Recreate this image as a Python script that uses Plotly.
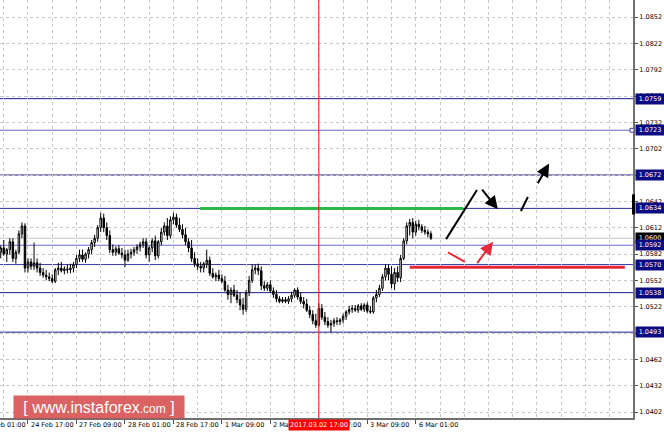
import plotly.graph_objects as go

# ---------------- data (EURUSD H1) ----------------
OPEN = [1.0584, 1.0589, 1.0582, 1.0587, 1.0596, 1.0577, 1.0584, 1.0605, 1.0614,
        1.0566, 1.0573, 1.0568, 1.0572, 1.0566, 1.0561, 1.0558, 1.0556, 1.0554, 1.0551,
        1.0564, 1.0566, 1.0563, 1.0565, 1.0564, 1.0566, 1.0570, 1.0577, 1.0581, 1.0576,
        1.0582, 1.0587, 1.0595, 1.0600, 1.0612, 1.0623, 1.0612, 1.0603, 1.0587, 1.0584,
        1.0588, 1.0583, 1.0581, 1.0575, 1.0582, 1.0584, 1.0587, 1.0590, 1.0593, 1.0596,
        1.0581, 1.0589, 1.0597, 1.0580, 1.0596, 1.0607, 1.0614, 1.0603, 1.0621, 1.0624,
        1.0615, 1.0610, 1.0604, 1.0596, 1.0589, 1.0577, 1.0571, 1.0568, 1.0566, 1.0571,
        1.0575, 1.0560, 1.0556, 1.0558, 1.0554, 1.0551, 1.0541, 1.0536, 1.0541, 1.0535,
        1.0530, 1.0524, 1.0519, 1.0538, 1.0552, 1.0564, 1.0566, 1.0563, 1.0546, 1.0543,
        1.0547, 1.0540, 1.0536, 1.0531, 1.0528, 1.0530, 1.0528, 1.0531, 1.0535, 1.0541,
        1.0533, 1.0528, 1.0525, 1.0518, 1.0513, 1.0506, 1.0501, 1.0520, 1.0510, 1.0505,
        1.0501, 1.0503, 1.0506, 1.0505, 1.0507, 1.0511, 1.0516, 1.0519, 1.0520, 1.0518,
        1.0523, 1.0519, 1.0524, 1.0517, 1.0516, 1.0532, 1.0536, 1.0543, 1.0556, 1.0566,
        1.0559, 1.0548, 1.0561, 1.0555, 1.0577, 1.0597, 1.0614, 1.0618, 1.0607, 1.0616,
        1.0613, 1.0609, 1.0607, 1.0605]
HIGH = [1.0592, 1.0598, 1.0589, 1.0600, 1.0600, 1.0587, 1.0609, 1.0618, 1.0617,
        1.0577, 1.0577, 1.0595, 1.0577, 1.0572, 1.0566, 1.0564, 1.0561, 1.0559, 1.0566,
        1.0572, 1.0573, 1.0568, 1.0570, 1.0571, 1.0573, 1.0581, 1.0587, 1.0587, 1.0584,
        1.0590, 1.0598, 1.0604, 1.0615, 1.0629, 1.0628, 1.0618, 1.0609, 1.0593, 1.0591,
        1.0592, 1.0589, 1.0587, 1.0587, 1.0588, 1.0590, 1.0593, 1.0596, 1.0600, 1.0600,
        1.0591, 1.0600, 1.0603, 1.0598, 1.0612, 1.0618, 1.0623, 1.0625, 1.0629, 1.0628,
        1.0623, 1.0616, 1.0612, 1.0600, 1.0598, 1.0584, 1.0577, 1.0573, 1.0573, 1.0587,
        1.0579, 1.0566, 1.0561, 1.0564, 1.0559, 1.0557, 1.0547, 1.0544, 1.0547, 1.0541,
        1.0538, 1.0532, 1.0541, 1.0557, 1.0570, 1.0570, 1.0571, 1.0568, 1.0551, 1.0550,
        1.0552, 1.0544, 1.0541, 1.0534, 1.0533, 1.0533, 1.0534, 1.0539, 1.0543, 1.0544,
        1.0538, 1.0533, 1.0531, 1.0523, 1.0518, 1.0514, 1.0526, 1.0525, 1.0516, 1.0510,
        1.0507, 1.0509, 1.0510, 1.0509, 1.0514, 1.0518, 1.0523, 1.0524, 1.0524, 1.0525,
        1.0526, 1.0526, 1.0527, 1.0523, 1.0534, 1.0541, 1.0547, 1.0559, 1.0570, 1.0570,
        1.0568, 1.0566, 1.0568, 1.0581, 1.0600, 1.0618, 1.0622, 1.0623, 1.0620, 1.0621,
        1.0616, 1.0614, 1.0610, 1.0608]
LOW = [1.0577, 1.0580, 1.0573, 1.0581, 1.0573, 1.0571, 1.0582, 1.0600, 1.0561,
       1.0561, 1.0564, 1.0564, 1.0561, 1.0557, 1.0555, 1.0552, 1.0551, 1.0549, 1.0549,
       1.0558, 1.0561, 1.0559, 1.0560, 1.0560, 1.0561, 1.0566, 1.0573, 1.0573, 1.0572,
       1.0577, 1.0582, 1.0590, 1.0596, 1.0607, 1.0607, 1.0598, 1.0583, 1.0580, 1.0580,
       1.0581, 1.0577, 1.0567, 1.0573, 1.0577, 1.0580, 1.0582, 1.0585, 1.0589, 1.0577,
       1.0573, 1.0584, 1.0575, 1.0577, 1.0592, 1.0603, 1.0598, 1.0600, 1.0616, 1.0612,
       1.0607, 1.0600, 1.0592, 1.0584, 1.0573, 1.0567, 1.0564, 1.0561, 1.0561, 1.0566,
       1.0557, 1.0554, 1.0551, 1.0551, 1.0549, 1.0539, 1.0530, 1.0526, 1.0533, 1.0526,
       1.0518, 1.0513, 1.0516, 1.0534, 1.0549, 1.0559, 1.0558, 1.0541, 1.0540, 1.0540,
       1.0538, 1.0532, 1.0527, 1.0526, 1.0526, 1.0526, 1.0525, 1.0527, 1.0532, 1.0530,
       1.0525, 1.0520, 1.0516, 1.0509, 1.0502, 1.0498, 1.0499, 1.0507, 1.0501, 1.0498,
       1.0493, 1.0499, 1.0501, 1.0501, 1.0503, 1.0507, 1.0513, 1.0515, 1.0516, 1.0515,
       1.0517, 1.0516, 1.0515, 1.0514, 1.0514, 1.0527, 1.0533, 1.0540, 1.0552, 1.0552,
       1.0543, 1.0541, 1.0550, 1.0550, 1.0575, 1.0593, 1.0603, 1.0600, 1.0603, 1.0609,
       1.0606, 1.0604, 1.0601, 1.0598]
CLOSE = [1.0589, 1.0582, 1.0587, 1.0596, 1.0577, 1.0584, 1.0605, 1.0614, 1.0566,
         1.0573, 1.0568, 1.0572, 1.0566, 1.0561, 1.0558, 1.0556, 1.0554, 1.0551, 1.0564,
         1.0566, 1.0563, 1.0565, 1.0564, 1.0566, 1.0570, 1.0577, 1.0581, 1.0576, 1.0582,
         1.0587, 1.0595, 1.0600, 1.0612, 1.0623, 1.0612, 1.0603, 1.0587, 1.0584, 1.0588,
         1.0583, 1.0581, 1.0575, 1.0582, 1.0584, 1.0587, 1.0590, 1.0593, 1.0596, 1.0581,
         1.0589, 1.0597, 1.0580, 1.0596, 1.0607, 1.0614, 1.0603, 1.0621, 1.0624, 1.0615,
         1.0610, 1.0604, 1.0596, 1.0589, 1.0577, 1.0571, 1.0568, 1.0566, 1.0571, 1.0575,
         1.0560, 1.0556, 1.0558, 1.0554, 1.0551, 1.0541, 1.0536, 1.0541, 1.0535, 1.0530,
         1.0524, 1.0519, 1.0538, 1.0552, 1.0564, 1.0566, 1.0563, 1.0546, 1.0543, 1.0547,
         1.0540, 1.0536, 1.0531, 1.0528, 1.0530, 1.0528, 1.0531, 1.0535, 1.0541, 1.0533,
         1.0528, 1.0525, 1.0518, 1.0513, 1.0506, 1.0501, 1.0520, 1.0510, 1.0505, 1.0501,
         1.0503, 1.0506, 1.0505, 1.0507, 1.0511, 1.0516, 1.0519, 1.0520, 1.0518, 1.0523,
         1.0519, 1.0524, 1.0517, 1.0516, 1.0532, 1.0536, 1.0543, 1.0556, 1.0566, 1.0559,
         1.0548, 1.0561, 1.0555, 1.0577, 1.0597, 1.0614, 1.0618, 1.0607, 1.0616, 1.0613,
         1.0609, 1.0607, 1.0605, 1.0600]

TICK_BARS = [-7, 9, 25, 41, 57, 73, 89, 105, 121, 137]
TICK_TEXT = ["24 Feb 01:00", "24 Feb 17:00", "27 Feb 09:00", "28 Feb 01:00",
             "28 Feb 17:00", "1 Mar 09:00", "2 Mar 01:00", "2 Mar 17:00",
             "3 Mar 09:00", "6 Mar 01:00"]
CURSOR_BAR = 105
CURSOR_TEXT = "2017.03.02 17:00"

Y_TICKS = [1.0402, 1.0432, 1.0462, 1.0492, 1.0522, 1.0552, 1.0582, 1.0612,
           1.0642, 1.0672, 1.0702, 1.0732, 1.0762, 1.0792, 1.0822, 1.0852]
LEVELS = [1.0759, 1.0723, 1.0672, 1.0634, 1.0592, 1.0570, 1.0538, 1.0493]
LEVEL_COLORS = ["#1a1a8a", "#6a6ad0", "#1a1a8a", "#2a2a9a", "#6a6ad0", "#3a3aa8", "#1a1a8a", "#1a1a8a"]
BID = 1.0600

GREEN_SEG = ([65.8, 152.6], 1.0634)
RED_SEG = ([135.0, 206.0], 1.0567)
BLACK_PATH = ([147.0, 157.2], [1.0599, 1.0655])
BLACK_DASH = ([171.7, 174.0], [1.0631, 1.0647])
BLACK_ARROWS = [((158.5, 1.0657), (164.1, 1.0633)), ((177.0, 1.0661), (181.0, 1.0685))]
RED_PATH = ([147.6, 153.2], [1.0584, 1.0573])
RED_ARROWS = [((156.9, 1.0570), (162.5, 1.0596))]

X_MIN, X_MAX = -0.24, 208.7
Y_MIN, Y_MAX = 1.03952, 1.08714

FONT = "DejaVu Sans"
FS = 6.5

bars = list(range(len(CLOSE)))


def xpaper(b):
    return (b - X_MIN) / (X_MAX - X_MIN)


fig = go.Figure()
fig.add_trace(go.Candlestick(
    x=bars, open=OPEN, high=HIGH, low=LOW, close=CLOSE,
    increasing=dict(line=dict(color="black", width=1), fillcolor="white"),
    decreasing=dict(line=dict(color="black", width=1), fillcolor="black"),
    whiskerwidth=0, hoverinfo="skip", showlegend=False))

# level lines
for v, c in zip(LEVELS, LEVEL_COLORS):
    fig.add_shape(type="line", xref="paper", x0=0, x1=1, y0=v, y1=v,
                  line=dict(color=c, width=1), layer="below")
fig.add_shape(type="line", xref="paper", x0=0, x1=1, y0=BID, y1=BID,
              line=dict(color="#c4c4c4", width=1), layer="below")

# green and red segments
fig.add_trace(go.Scatter(x=GREEN_SEG[0], y=[GREEN_SEG[1]] * 2, mode="lines",
                         line=dict(color="#2fb84a", width=3), hoverinfo="skip", showlegend=False))
fig.add_trace(go.Scatter(x=RED_SEG[0], y=[RED_SEG[1]] * 2, mode="lines",
                         line=dict(color="#e8293a", width=3), hoverinfo="skip", showlegend=False))

# forecast paths
for xs, ys, col in [(BLACK_PATH[0], BLACK_PATH[1], "black"),
                    (BLACK_DASH[0], BLACK_DASH[1], "black"),
                    (RED_PATH[0], RED_PATH[1], "#e8293a")]:
    fig.add_trace(go.Scatter(x=xs, y=ys, mode="lines", line=dict(color=col, width=2),
                             hoverinfo="skip", showlegend=False))
for (t, h), col in [(a, "black") for a in BLACK_ARROWS] + [(a, "#e8293a") for a in RED_ARROWS]:
    fig.add_annotation(x=h[0], y=h[1], ax=t[0], ay=t[1], xref="x", yref="y",
                       axref="x", ayref="y", text="", showarrow=True,
                       arrowhead=2, arrowsize=1.3, arrowwidth=2, arrowcolor=col)

# cursor vertical line
fig.add_shape(type="line", x0=CURSOR_BAR, x1=CURSOR_BAR, yref="paper", y0=0, y1=1,
              line=dict(color="#ff1010", width=1), layer="above")

# markers on the price scale
fig.add_shape(type="rect", xref="paper", x0=1 - 1.0 / 633, x1=1 + 2.0 / 633,
              y0=1.0627, y1=1.0650, fillcolor="black", line=dict(width=0))
fig.add_shape(type="rect", xref="paper", x0=1 - 3.0 / 633, x1=1 + 1.0 / 633,
              y0=1.07208, y1=1.07252, fillcolor="white", line=dict(color="#4040a0", width=1))

# x labels
for b, t in zip(TICK_BARS, TICK_TEXT):
    fig.add_annotation(xref="paper", x=xpaper(b), yref="paper", y=0, xanchor="left",
                       yanchor="top", yshift=-1, xshift=1, text=t, showarrow=False,
                       font=dict(family=FONT, size=FS, color="black"))
fig.add_annotation(xref="paper", x=xpaper(CURSOR_BAR), yref="paper", y=0, xanchor="center",
                   yanchor="top", yshift=-1, text=CURSOR_TEXT, showarrow=False,
                   bgcolor="#ff0000", borderpad=1,
                   font=dict(family=FONT, size=FS, color="white"))

# price-scale boxes (bid first so level boxes sit on top)
fig.add_annotation(xref="paper", x=1, xanchor="left", xshift=2, y=BID, yref="y",
                   yanchor="middle", text=f"{BID:.4f}", showarrow=False,
                   bgcolor="black", borderpad=1, width=26,
                   font=dict(family=FONT, size=FS, color="white"))
for v in LEVELS:
    fig.add_annotation(xref="paper", x=1, xanchor="left", xshift=2, y=v, yref="y",
                       yanchor="middle", text=f"{v:.4f}", showarrow=False,
                       bgcolor="#0c0c82", borderpad=1, width=26,
                       font=dict(family=FONT, size=FS, color="white"))

# watermark
fig.add_annotation(xref="paper", x=0, xshift=13, yref="paper", y=0, yshift=-1,
                   xanchor="left", yanchor="bottom",
                   text="[ www.instaforex<span style='font-size:12px'>.com</span> ]",
                   showarrow=False, bgcolor="rgba(214,72,72,0.85)", width=168, height=20,
                   font=dict(family="Liberation Sans", size=16, color="white"))

fig.update_layout(
    width=664, height=435,
    margin=dict(l=0, r=31, t=0, b=17),
    paper_bgcolor="white", plot_bgcolor="white",
    showlegend=False, hovermode=False,
    xaxis=dict(range=[X_MIN, X_MAX], rangeslider=dict(visible=False),
               tickmode="array", tickvals=TICK_BARS, showticklabels=False,
               ticks="outside", ticklen=4, tickcolor="#505050",
               showgrid=True, gridcolor="#c8c8c8", griddash="3px,3px", gridwidth=1,
               minor=dict(tickmode="linear", tick0=1, dtick=8, showgrid=True,
                          gridcolor="#c8c8c8", griddash="3px,3px", ticks=""),
               showline=True, linecolor="#707070", linewidth=2, zeroline=False,
               automargin=False, fixedrange=True),
    yaxis=dict(range=[Y_MIN, Y_MAX], side="right", tickmode="array", tickvals=Y_TICKS,
               ticktext=[f"{v:.4f}" for v in Y_TICKS],
               ticks="outside", ticklen=3, tickcolor="#505050",
               tickfont=dict(family=FONT, size=FS, color="black"),
               showgrid=True, gridcolor="#c8c8c8", griddash="3px,3px",
               showline=True, linecolor="#707070", linewidth=2, zeroline=False,
               automargin=False, fixedrange=True),
)

fig.write_html("out.html", config={"displayModeBar": False},
               post_script="document.body.style.margin='0px';")
